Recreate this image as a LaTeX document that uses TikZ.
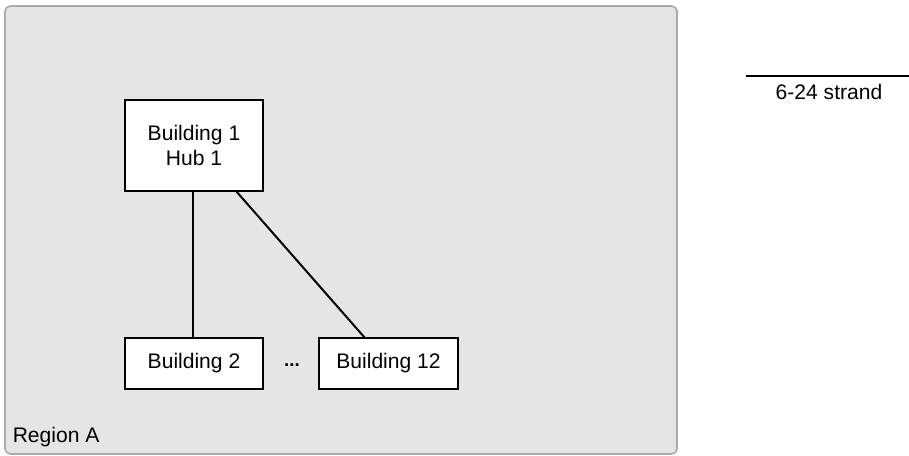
\documentclass[tikz,border=0pt]{standalone}
\usepackage{fontspec}
\setmainfont{Liberation Sans}
\begin{document}
\begin{tikzpicture}[x=0.75pt,y=-0.75pt,
  every node/.style={font=\fontsize{15.8}{18.8}\selectfont},
  bldg/.style={draw=black,fill=white,line width=1.6pt,inner sep=0pt},
  link/.style={draw=black,line width=1.5pt}]
\useasboundingbox (0,0) rectangle (909,455);
% region background
\draw[fill=black!10,draw=black!33,line width=1.2pt,rounded corners=4pt]
  (5,6) rectangle (677,454);
\node[anchor=base west,inner sep=0pt] (region) at (12.5,442.5) {Region A};
% buildings
\node[bldg,minimum width=103.5pt,minimum height=68.5pt,align=center]
  (b1) at (194,145.5) {Building 1\\Hub 1};
\node[bldg,minimum width=103.5pt,minimum height=38pt] (b2) at (194,363.5) {Building 2};
\node[bldg,minimum width=104pt,minimum height=38pt] (b12) at (388.5,363.5) {Building 12};
\node[inner sep=0pt,font=\bfseries\fontsize{14}{16}\selectfont] (dots) at (292,365) {...};
% fibre links
\draw[link] (b1.south -| 193,0) -- (b2.north -| 193,0);
\coordinate (s1) at (236,191);
\coordinate (e1) at (365,338);
\draw[link] (s1) -- (e1);
% legend
\coordinate (l1) at (746,76);
\coordinate (l2) at (909,76);
\draw[link] (l1) -- (l2);
\node[inner sep=0pt] (legend) at (829,92) {6-24 strand};
\end{tikzpicture}
\end{document}
